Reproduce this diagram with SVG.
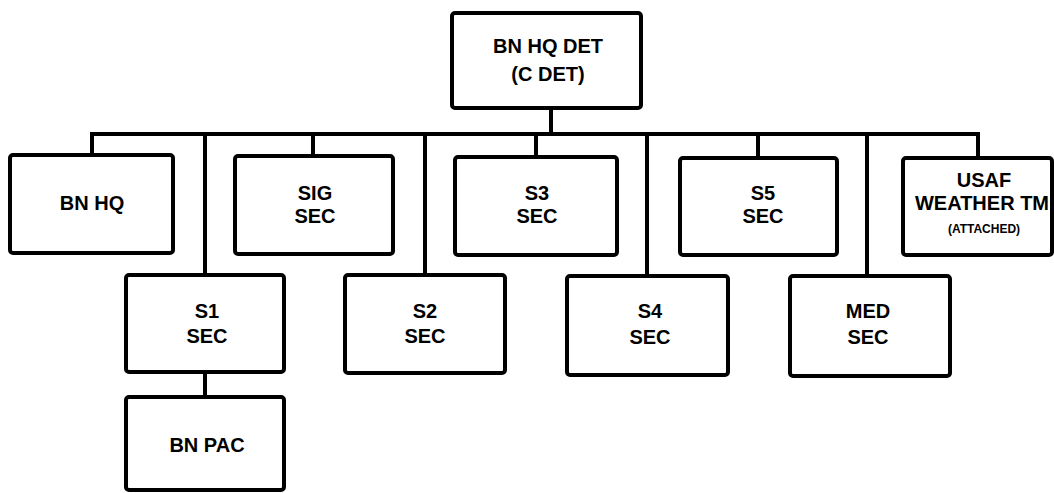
<svg xmlns="http://www.w3.org/2000/svg" width="1054" height="493" viewBox="0 0 1054 493">
<style>
.box{fill:#fff;stroke:#000;stroke-width:4;stroke-linejoin:round}
.ln{fill:none;stroke:#000;stroke-width:4;stroke-linecap:square}
text{font-family:"Liberation Sans",Arial,sans-serif;font-weight:bold;font-size:20px;text-anchor:middle;fill:#000}
.sm{font-size:12px}
</style>
<rect width="1054" height="493" fill="#fff"/>
<g id="connectors">
<path class="ln" d="M551 108V134M92 134H978M92 134V155M205 134V275M313 134V156M425 134V275M536 134V157M647 134V275M758 134V158M867 134V275M978 134V158M205 372V397"/>
</g>
<g id="n-top"><rect class="box" x="452" y="13" width="189" height="95" rx="3"/><text x="548" y="53">BN HQ DET</text><text x="548" y="81">(C DET)</text></g>
<g id="n-bnhq"><rect class="box" x="10" y="155" width="163" height="98" rx="3"/><text x="92" y="210">BN HQ</text></g>
<g id="n-sig"><rect class="box" x="235" y="156" width="158" height="98" rx="3"/><text x="315" y="200">SIG</text><text x="315" y="223">SEC</text></g>
<g id="n-s3"><rect class="box" x="455" y="157" width="162" height="98" rx="3"/><text x="537" y="200">S3</text><text x="537" y="223">SEC</text></g>
<g id="n-s5"><rect class="box" x="680" y="158" width="157" height="97" rx="3"/><text x="763" y="200">S5</text><text x="763" y="223">SEC</text></g>
<g id="n-usaf"><rect class="box" x="903" y="158" width="149" height="97" rx="3"/><text x="984" y="187">USAF</text><text x="982" y="210">WEATHER TM</text><text class="sm" x="984" y="233">(ATTACHED)</text></g>
<g id="n-s1"><rect class="box" x="126" y="275" width="158" height="97" rx="3"/><text x="207" y="318">S1</text><text x="207" y="343">SEC</text></g>
<g id="n-s2"><rect class="box" x="345" y="275" width="160" height="98" rx="3"/><text x="425" y="318">S2</text><text x="425" y="343">SEC</text></g>
<g id="n-s4"><rect class="box" x="567" y="276" width="161" height="99" rx="3"/><text x="650" y="318">S4</text><text x="650" y="344">SEC</text></g>
<g id="n-med"><rect class="box" x="790" y="276" width="160" height="100" rx="3"/><text x="868" y="318">MED</text><text x="868" y="344">SEC</text></g>
<g id="n-bnpac"><rect class="box" x="126" y="397" width="158" height="93" rx="3"/><text x="207" y="452">BN PAC</text></g>
</svg>
